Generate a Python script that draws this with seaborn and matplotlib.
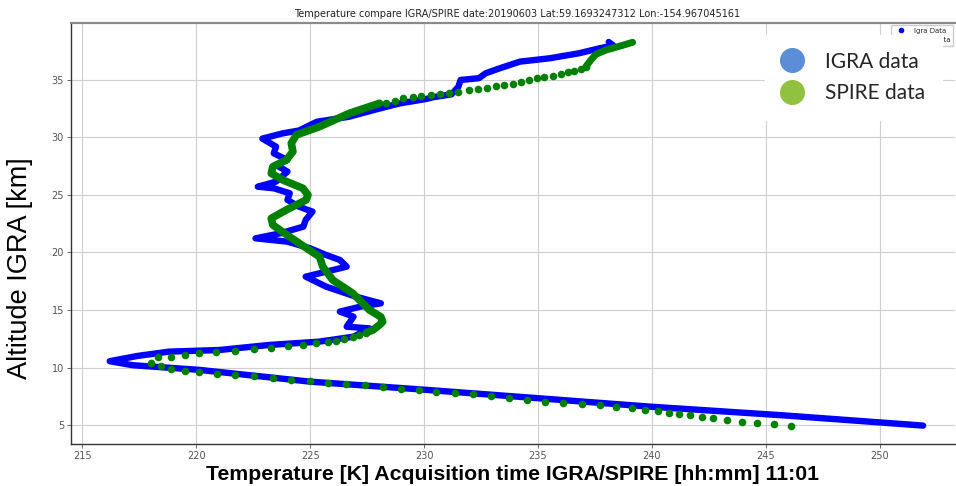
import matplotlib
matplotlib.use("Agg")
import matplotlib.pyplot as plt
import seaborn as sns
from matplotlib.lines import Line2D

# ---------------- data ----------------
igra_temp = [251.9, 245.7, 239.9, 234.2, 229.8, 225.0, 220.1, 217.2, 216.2, 217.4,
             218.8, 221.0, 223.2, 225.4, 226.9, 227.6, 226.6, 226.9, 226.3, 227.2,
             228.1, 227.0, 225.7, 224.8, 225.7, 226.6, 226.3, 225.7, 225.0, 224.0,
             222.6, 223.7, 224.7, 224.8, 225.1, 224.5, 224.0, 224.1, 223.4, 222.7,
             223.5, 224.0, 223.5, 224.0, 223.4, 223.5, 222.9, 223.8, 224.5, 225.3,
             226.7, 227.8, 228.9, 230.1, 230.4, 231.2, 231.5, 231.6, 232.4, 232.7,
             233.3, 234.2, 235.5, 236.8, 237.7, 238.3, 238.1]
igra_alt = [4.95, 5.85, 6.6, 7.45, 8.1, 8.77, 9.8, 10.2, 10.55, 11.0,
            11.38, 11.52, 11.96, 12.25, 12.68, 13.4, 13.55, 14.42, 14.86, 15.29,
            15.58, 16.16, 17.03, 17.9, 18.33, 18.77, 19.35, 19.78, 20.36, 20.94,
            21.23, 21.67, 22.25, 22.83, 23.55, 23.99, 24.57, 25.15, 25.58, 25.72,
            26.16, 27.03, 27.61, 28.04, 28.62, 29.2, 29.9, 30.36, 30.6, 31.37,
            31.8, 32.39, 32.95, 33.35, 33.5, 33.75, 34.4, 35.0, 35.15, 35.58,
            36.0, 36.59, 36.88, 37.32, 37.75, 38.0, 38.3]

# SPIRE: discrete dots, lower part (surface up to the tropopause and back)
spire_lo_temp = [246.12, 245.36, 244.6, 243.95, 243.29, 242.7, 242.18, 241.67, 241.2, 240.73,
                 240.28, 239.7, 239.12, 238.42, 237.72, 236.91, 236.11, 235.31, 234.5, 233.71,
                 232.94, 232.13, 231.34, 230.54, 229.76, 228.97, 228.18, 227.39, 226.59, 225.79,
                 225.0, 224.17, 223.38, 222.54, 221.72, 220.9, 220.14, 219.49, 218.9, 218.43,
                 218.03, 218.32, 218.9, 219.49, 220.14, 220.88, 221.71, 222.53, 223.3, 224.02,
                 224.68, 225.26, 225.77, 226.14, 226.5, 226.87, 227.16, 227.46]
spire_lo_alt = [4.94, 5.06, 5.2, 5.29, 5.43, 5.58, 5.72, 5.84, 5.96, 6.07,
                6.22, 6.3, 6.45, 6.59, 6.74, 6.83, 6.94, 7.03, 7.17, 7.35,
                7.52, 7.67, 7.78, 7.9, 8.04, 8.16, 8.3, 8.45, 8.57, 8.68,
                8.8, 8.94, 9.09, 9.23, 9.38, 9.46, 9.61, 9.72, 9.9, 10.13,
                10.42, 10.89, 10.94, 11.09, 11.23, 11.37, 11.46, 11.58, 11.72, 11.87,
                11.96, 12.1, 12.22, 12.33, 12.45, 12.62, 12.83, 13.03]

# SPIRE: dense profile in the middle
spire_mid_temp = [227.46, 227.75, 228.04, 228.18, 228.1, 227.6, 226.87, 225.99, 225.55, 225.41,
                  224.97, 224.09, 223.36, 223.29, 223.95, 224.82, 224.9, 224.68, 223.8, 223.29,
                  223.36, 223.95, 224.24, 224.17, 224.39, 225.41, 226.72, 228.04]
spire_mid_alt = [13.03, 13.26, 13.7, 13.98, 14.4, 15.0, 16.45, 17.6, 18.77, 19.63,
                 20.2, 21.37, 22.39, 22.97, 23.7, 24.57, 25.0, 25.58, 26.3, 26.88,
                 27.46, 28.04, 28.77, 29.5, 30.22, 30.94, 32.1, 32.97]

# SPIRE: discrete dots, upper part
spire_hi_temp = [228.33, 228.7, 229.06, 229.5, 229.87, 230.31, 230.7, 231.11, 231.5, 231.99,
                 232.35, 232.75, 233.16, 233.52, 233.89, 234.25, 234.62, 234.94, 235.28, 235.64,
                 236.0, 236.3, 236.59, 236.89, 237.1]
spire_hi_alt = [33.03, 33.17, 33.4, 33.55, 33.64, 33.72, 33.78, 33.9, 33.98, 34.13,
                34.22, 34.33, 34.45, 34.57, 34.68, 34.83, 34.97, 35.15, 35.26, 35.37,
                35.5, 35.67, 35.81, 35.96, 36.16]

# SPIRE: dense top
spire_top_temp = [237.1, 237.32, 237.54, 237.98, 238.57, 239.15]
spire_top_alt = [36.16, 36.74, 37.23, 37.6, 37.93, 38.27]

x_ticks = [215, 220, 225, 230, 235, 240, 245, 250]
y_ticks = [5, 10, 15, 20, 25, 30, 35]

title = "Temperature compare IGRA/SPIRE date:20190603 Lat:59.1693247312 Lon:-154.967045161"
xlabel = "Temperature [K] Acquisition time IGRA/SPIRE [hh:mm] 11:01"
ylabel = "Altitude IGRA [km]"
legend_small = ["Igra Data", "Spire Data"]
legend_big = ["IGRA data", "SPIRE data"]

# ---------------- figure ----------------
sns.set_theme(style="whitegrid")
plt.rcParams["font.family"] = ["DejaVu Sans"]

W, H = 956, 486
fig = plt.figure(figsize=(W / 100, H / 100), dpi=100)
ax = fig.add_axes([71 / W, 42 / H, 884 / W, 421 / H])
ax.set_facecolor("white")

line_kw = dict(sort=False, estimator=None, ax=ax, legend=False)
sns.lineplot(x=igra_temp, y=igra_alt, color="blue", linewidth=4.6,
             solid_capstyle="round", solid_joinstyle="round", zorder=3, **line_kw)
sns.lineplot(x=spire_mid_temp, y=spire_mid_alt, color="green", linewidth=5.5,
             solid_capstyle="round", solid_joinstyle="round", zorder=4, **line_kw)
sns.lineplot(x=spire_top_temp, y=spire_top_alt, color="green", linewidth=5,
             solid_capstyle="round", solid_joinstyle="round", zorder=4, **line_kw)
sns.scatterplot(x=spire_lo_temp, y=spire_lo_alt, color="green", s=30, linewidth=0,
                zorder=5, ax=ax, legend=False)
sns.scatterplot(x=spire_hi_temp, y=spire_hi_alt, color="green", s=30, linewidth=0,
                zorder=5, ax=ax, legend=False)

ax.set_xlim(214.5, 253.3)
ax.set_ylim(3.35, 39.95)
ax.set_xticks(x_ticks)
ax.set_yticks(y_ticks)
ax.grid(True, color="#cfcfcf", linewidth=0.8)
ax.tick_params(axis="both", labelsize=7, colors="#555555", length=3, width=0.6,
               direction="out", pad=2, left=True, bottom=True)
for side in ["left", "bottom"]:
    ax.spines[side].set_color("#333333")
    ax.spines[side].set_linewidth(1.0)
ax.spines["top"].set_color("#8a8a8a")
ax.spines["top"].set_linewidth(1.6)
ax.spines["right"].set_visible(False)
ax.set_xlabel("")
ax.set_ylabel("")

# small original legend
small_handles = [Line2D([], [], marker="o", ls="", color="blue", markersize=3),
                 Line2D([], [], marker="o", ls="", color="green", markersize=3)]
ax.legend(small_handles, legend_small, loc="upper right", fontsize=5,
          frameon=True, framealpha=1, edgecolor="#cccccc", borderaxespad=0.3)

# big overlay legend
big_handles = [Line2D([], [], marker="o", ls="", color="#5b8ed6", markersize=17),
               Line2D([], [], marker="o", ls="", color="#92c13f", markersize=17)]
fig.legend(big_handles, legend_big, loc="upper left",
           bbox_to_anchor=(765 / W, 1 - 35 / H), borderaxespad=0,
           prop={"family": "Lato", "size": 15}, frameon=True, framealpha=1,
           facecolor="white", edgecolor="white", fancybox=False,
           borderpad=0.8, handlelength=1.0, handletextpad=1.1, labelspacing=0.55)

fig.text(517 / W, 1 - 14 / H, title, ha="center", va="center", fontsize=7,
         color="#222222")
fig.text(513 / W, 1 - 480 / H, xlabel, ha="center", va="baseline", fontsize=15.3,
         fontweight="bold", family="Liberation Sans", color="black")
fig.text(20 / W, 1 - 268 / H, ylabel, ha="center", va="center", rotation=90,
         fontsize=19.5, family="Liberation Sans", color="black")

fig.savefig("out.png", dpi=100)
